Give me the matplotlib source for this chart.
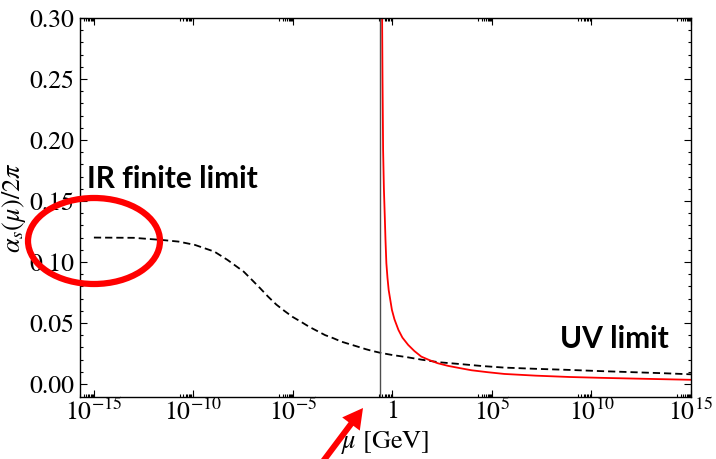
import numpy as np
import matplotlib
matplotlib.use("Agg")
import matplotlib.pyplot as plt
from matplotlib.patches import Ellipse, FancyArrow
from matplotlib.transforms import IdentityTransform
from matplotlib.ticker import NullFormatter

plt.rcParams['font.family'] = 'STIXGeneral'
plt.rcParams['mathtext.fontset'] = 'stix'

# log10(mu) and alpha_s/2pi
dash_exp = [-15, -13, -11.56, -10.75, -9.93, -8.95, -8.29, -7.47, -7.06, -6.65,
            -6.25, -5.83, -5.43, -5.02, -4.61, -4.2, -3.79, -3.38, -2.97, -2.57,
            -2.15, -1.75, -1.34, -1.0, -0.6, 0.0, 0.71, 1.5, 2.33, 3.41, 4.5, 5.62,
            7.2, 8.9, 10.5, 12.15, 13.6, 15]
dash_val = [0.120, 0.1198, 0.118, 0.1167, 0.114, 0.1085, 0.1017, 0.092, 0.0853, 0.0785,
            0.0716, 0.065, 0.0599, 0.055, 0.0511, 0.047, 0.0435, 0.040, 0.0375, 0.0347,
            0.0326, 0.0306, 0.0285, 0.027, 0.0255, 0.0237, 0.022, 0.0198, 0.0178, 0.0163,
            0.0147, 0.0134, 0.0124, 0.0115, 0.0105, 0.0096, 0.0088, 0.0079]

red_exp = [-0.535, -0.52, -0.50, -0.47, -0.43, -0.385, -0.35, -0.306, -0.25, -0.19,
           -0.11, -0.027, 0.1, 0.3, 0.5, 0.79, 1.1, 1.45, 1.85, 2.27, 2.8, 3.41,
           3.98, 4.8, 5.62, 7.2, 8.9, 10.5, 12.15, 15]
red_val = [0.35, 0.30, 0.25, 0.192, 0.160, 0.137, 0.118, 0.099, 0.087, 0.077,
           0.069, 0.0607, 0.053, 0.0443, 0.038, 0.032, 0.027, 0.0224, 0.0196, 0.017,
           0.0148, 0.0129, 0.0112, 0.0096, 0.0082, 0.0068, 0.0057, 0.0050, 0.0044, 0.0034]

lambda_qcd = 0.25

major_exp = [-15, -10, -5, 0, 5, 10, 15]
major_lab = [r'$10^{-15}$', r'$10^{-10}$', r'$10^{-5}$', '1', r'$10^{5}$', r'$10^{10}$', r'$10^{15}$']

mu_dash = 10.0 ** np.array(dash_exp)
mu_red = 10.0 ** np.array(red_exp)

fig = plt.figure(figsize=(7.16, 4.59), dpi=100)
ax = fig.add_axes([80/716, 1-397/459, 611/716, (397-18)/459])

ax.plot(mu_dash, dash_val, color='black', ls=(0, (4, 2.2)), lw=1.3)
ax.plot(mu_red, red_val, color='#ff0000', lw=1.3)
ax.axvline(lambda_qcd, color='0.3', lw=1.0)

ax.set_xscale('log')
ax.set_xlim(1e-15, 1e15)
ax.set_ylim(-0.0107, 0.30)
ax.set_xticks([10.0**e for e in major_exp])
ax.set_xticklabels(major_lab)
minor = [k * 10.0**(e-1) for e in major_exp for k in range(2, 10)]
ax.set_xticks(minor, minor=True)
ax.xaxis.set_minor_formatter(NullFormatter())
ax.set_yticks(np.arange(0, 0.301, 0.05))
ax.set_yticklabels(['%.2f' % v for v in np.arange(0, 0.301, 0.05)])
ax.set_yticks(np.arange(0, 0.301, 0.01), minor=True)
ax.tick_params(which='both', direction='in', top=True, right=True, labelsize=18.5, width=0.8)
ax.tick_params(which='major', length=5)
ax.tick_params(which='minor', length=2.5)
ax.tick_params(axis='x', pad=2)
ax.tick_params(axis='y', pad=4)
for s in ax.spines.values():
    s.set_linewidth(1.0)

ax.set_xlabel(r'$\mu$ [GeV]', fontsize=19, labelpad=2)
ax.set_ylabel(r'$\alpha_s(\mu)/2\pi$', fontsize=19)
ax.yaxis.set_label_coords(-0.085, 0.5)

# annotations (in pixels, origin bottom-left)
H = 459
fig.text(87/716, 1-188/H, 'IR finite limit', fontsize=21.5, fontweight='bold',
         family='Lato', ha='left', va='baseline')
fig.text(560/716, 1-348/H, 'UV limit', fontsize=21.5, fontweight='bold',
         family='Lato', ha='left', va='baseline')

ell = Ellipse((94, H-241), 132, 86, transform=IdentityTransform(), fill=False,
              ec='#ff0000', lw=4.5)
fig.add_artist(ell)
arr = FancyArrow(318, H-468, 45, -(408-468), width=6, head_width=22, head_length=20,
                 length_includes_head=True, transform=IdentityTransform(),
                 color='#ff0000', lw=0)
fig.add_artist(arr)

fig.savefig('out.png', dpi=100)
